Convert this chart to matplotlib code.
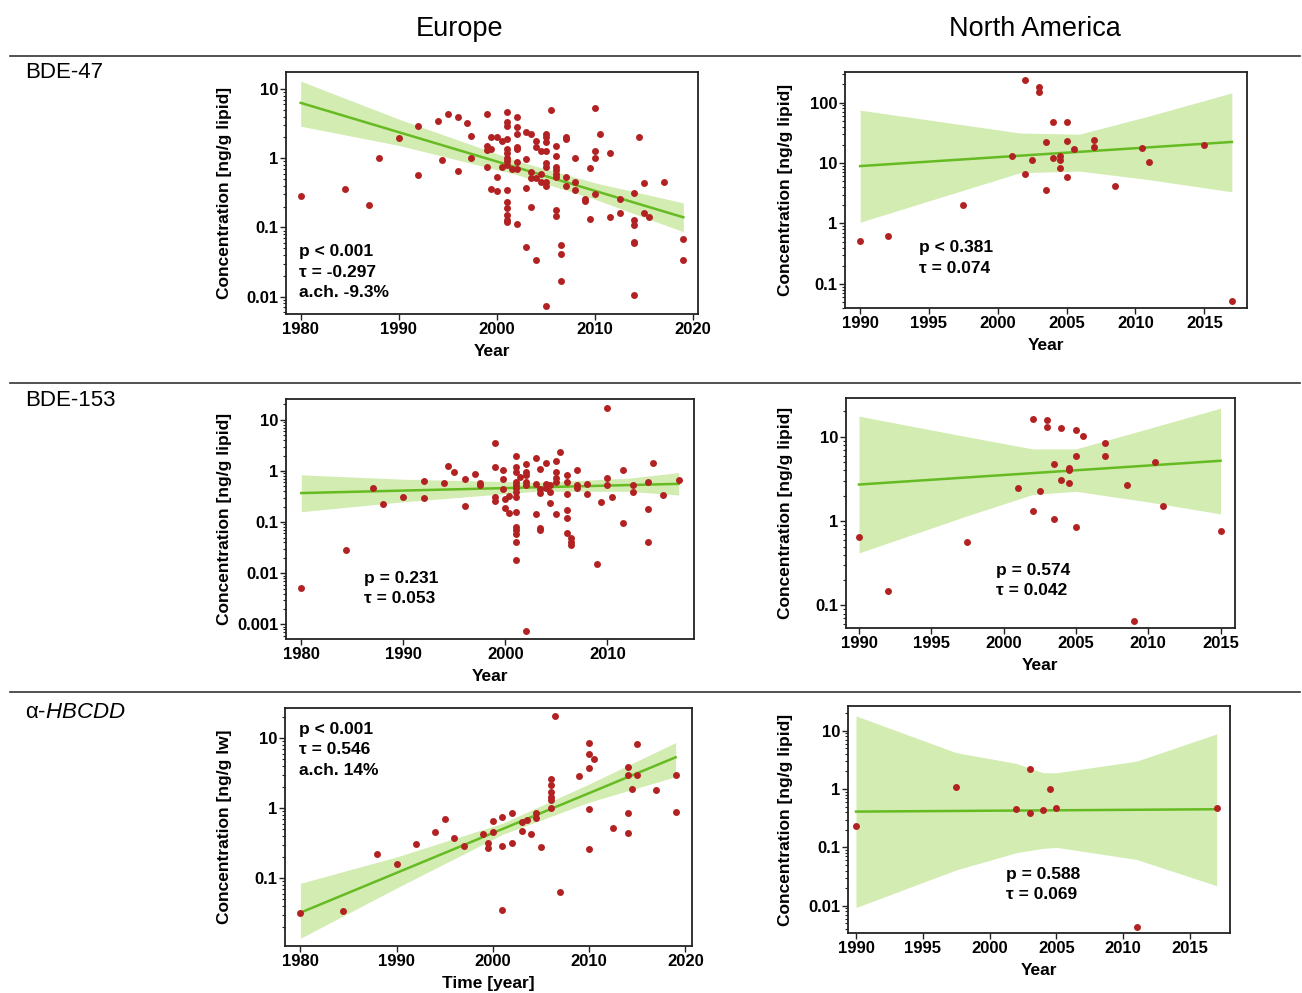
import numpy as np
import matplotlib
matplotlib.use("Agg")
import matplotlib.pyplot as plt
from matplotlib.lines import Line2D
from matplotlib.ticker import LogLocator, NullFormatter

plt.rcParams['font.family'] = ['Liberation Sans', 'DejaVu Sans']
plt.rcParams['mathtext.fontset'] = 'custom'
plt.rcParams['mathtext.rm'] = 'Liberation Sans'
plt.rcParams['mathtext.it'] = 'Liberation Sans:italic'

# ---- data (year, concentration) ----

# BDE-47, Europe
eu47_year = [1980, 1984.5, 1987, 1988, 1990, 1992, 1992, 1994, 1995, 1994.4,
             1996, 1996, 1997, 1997.4, 1997.4, 1999, 1999, 1999, 1999.4, 1999.4,
             1999, 1999.4, 2000, 2000.5, 2001, 2000, 2000,
             2001, 2001, 2001, 2001, 2001, 2001, 2001, 2001, 2001, 2001, 2001, 2001, 2001, 2001,
             2000.5, 2001.5, 2002,
             2002, 2002, 2002, 2002, 2002, 2002, 2002,
             2003, 2003, 2003, 2003, 2003.5, 2003.5, 2003.5, 2003.5,
             2004, 2004, 2004, 2004, 2004.5, 2004.5, 2004.5,
             2005, 2005, 2005, 2005, 2005, 2005, 2005, 2005, 2005, 2005.5,
             2006, 2006, 2006, 2006, 2006, 2006, 2006, 2006, 2006.5, 2006.5, 2006.5,
             2007, 2007, 2007, 2007, 2008, 2008, 2008, 2009, 2009, 2009.5, 2009.5,
             2010, 2010, 2010, 2010, 2010.5, 2011.5, 2011.5, 2012.5, 2012.5,
             2014, 2014, 2014, 2014, 2014, 2014, 2014.5, 2015, 2015, 2015.5, 2017, 2019, 2019]
eu47_conc = [0.28, 0.36, 0.21, 1.0, 1.96, 2.9, 0.58, 3.5, 4.4, 0.94,
             4.0, 0.66, 3.2, 2.1, 1.0, 4.4, 1.5, 1.3, 2.0, 1.36,
             0.74, 0.36, 2.03, 1.8, 1.92, 0.54, 0.34,
             4.6, 3.3, 2.9, 1.35, 1.17, 1.02, 0.91, 0.79, 0.345, 0.235, 0.19, 0.149, 0.128, 0.118,
             0.74, 0.69, 0.69,
             4.0, 2.83, 2.27, 1.43, 1.35, 0.88, 0.112,
             2.4, 0.96, 0.37, 0.052, 2.2, 0.63, 0.51, 0.2,
             1.78, 1.43, 0.51, 0.034, 1.26, 0.59, 0.45,
             1.26, 0.45, 0.39, 2.27, 2.03, 1.72, 0.84, 0.75, 0.0074, 4.9,
             1.49, 1.07, 0.75, 0.67, 0.6, 0.54, 0.178, 0.147, 0.055, 0.041, 0.0168,
             2.0, 1.9, 0.54, 0.39, 1.02, 0.45, 0.35, 0.26, 0.24, 0.73, 0.13,
             5.4, 1.26, 0.99, 0.3, 2.27, 1.19, 0.14, 0.26, 0.16,
             0.31, 0.128, 0.11, 0.062, 0.059, 0.0105, 2.0, 0.44, 0.16, 0.14, 0.45, 0.069, 0.034]
eu47_trend_x = [1980, 2019]
eu47_trend_y = [6.3, 0.14]
eu47_band_x = [1980, 1990, 2002, 2010, 2019]
eu47_band_hi = [13.0, 3.67, 0.92, 0.44, 0.226]
eu47_band_lo = [2.9, 1.53, 0.58, 0.255, 0.0865]

# BDE-47, North America
na47_year = [1990, 1992, 1997.5, 2001, 2002, 2002, 2002.5, 2003, 2003, 2003.5, 2003.5,
             2004, 2004, 2004.5, 2004.5, 2004.5, 2005, 2005, 2005, 2005.5,
             2007, 2007, 2008.5, 2010.5, 2011, 2015, 2017]
na47_conc = [0.52, 0.61, 2.0, 13.2, 235, 6.6, 11.3, 182, 152, 22, 3.6,
             47, 12, 13.2, 11.3, 8.3, 47, 23.5, 5.9, 17,
             24, 18.5, 4.1, 18, 10.4, 19.6, 0.053]
na47_trend_x = [1990, 2017]
na47_trend_y = [8.9, 22.3]
na47_band_x = [1990, 2001.6, 2005.9, 2011, 2017]
na47_band_hi = [74.8, 31.4, 29.9, 60, 144.5]
na47_band_lo = [1.05, 6.9, 7.36, 5.3, 3.34]

# BDE-153, Europe
eu153_year = [1980, 1984.4, 1987, 1988, 1990, 1992, 1992, 1994, 1994.4, 1995, 1996, 1996,
              1997, 1997.5, 1997.5, 1999, 1999, 1999, 1999, 1999.8, 1999.8, 1999.8,
              2000, 2000, 2000.4, 2000.4,
              2001, 2001, 2001, 2001, 2001, 2001, 2001, 2001, 2001, 2001, 2001, 2001, 2001, 2001,
              2001.4, 2002, 2002, 2002, 2002, 2002, 2002,
              2003, 2003, 2003, 2003.4, 2003.4, 2003.4, 2003.4, 2003.4,
              2004, 2004, 2004, 2004.4, 2004.4, 2004.4,
              2005, 2005, 2005, 2005, 2005, 2005.4,
              2006, 2006, 2006, 2006, 2006, 2006, 2006.4, 2006.4, 2006.4,
              2007, 2007, 2007, 2008, 2008, 2009, 2009.4, 2010, 2010, 2010, 2010.5,
              2011.5, 2011.5, 2012.5, 2012.5, 2014, 2014, 2014, 2014.5, 2015.5, 2017]
eu153_conc = [0.0051, 0.029, 0.47, 0.23, 0.31, 0.64, 0.30, 0.59, 1.25, 0.94, 0.71, 0.21,
              0.89, 0.57, 0.52, 3.6, 1.2, 0.31, 0.26, 1.06, 0.69, 0.44,
              0.28, 0.19, 0.33, 0.153,
              2.0, 1.18, 0.94, 0.60, 0.53, 0.46, 0.38, 0.31, 0.16, 0.082, 0.07, 0.058, 0.041, 0.018,
              0.77, 1.39, 0.94, 0.84, 0.60, 0.53, 0.00073,
              1.77, 0.55, 0.146, 1.09, 0.45, 0.37, 0.078, 0.07,
              1.41, 0.55, 0.46, 0.53, 0.39, 0.24,
              1.57, 0.97, 0.74, 0.60, 0.146, 2.38,
              0.84, 0.60, 0.36, 0.17, 0.12, 0.062, 0.05, 0.041, 0.035,
              1.03, 0.53, 0.47, 0.55, 0.36, 0.015, 0.25, 16.7, 0.72, 0.53, 0.31,
              1.06, 0.095, 0.53, 0.39, 0.62, 0.18, 0.04, 1.45, 0.34, 0.67]
eu153_trend_x = [1980, 2017]
eu153_trend_y = [0.37, 0.56]
eu153_band_x = [1980, 1990, 2003, 2012, 2017]
eu153_band_hi = [0.84, 0.69, 0.60, 0.72, 0.93]
eu153_band_lo = [0.16, 0.25, 0.40, 0.40, 0.34]

# BDE-153, North America
na153_year = [1990, 1992, 1997.5, 2001, 2002, 2002, 2002.5, 2003, 2003, 2003.5, 2003.5,
              2004, 2004, 2004.5, 2004.5, 2004.5, 2005, 2005, 2005, 2005.5,
              2007, 2007, 2008.5, 2009, 2010.5, 2011, 2015]
na153_conc = [0.65, 0.147, 0.56, 2.5, 16.5, 1.31, 2.3, 15.7, 13, 4.7, 1.07,
              12.6, 3.05, 4.27, 4.0, 2.84, 12.2, 5.9, 0.86, 10.3,
              8.4, 5.9, 2.67, 0.066, 5.1, 1.5, 0.76]
na153_trend_x = [1990, 2015]
na153_trend_y = [2.72, 5.2]
na153_band_x = [1990, 1997.5, 2002, 2005, 2010, 2015]
na153_band_hi = [17.6, 10, 7.2, 7.2, 12.5, 21.9]
na153_band_lo = [0.42, 1.16, 2.07, 2.26, 1.69, 1.22]

# alpha-HBCDD, Europe
euhb_year = [1980, 1984.4, 1988, 1990, 1992, 1994, 1995, 1996, 1997, 1999, 1999.5, 1999.5,
             2000, 2000, 2001, 2001, 2001, 2002, 2002, 2003, 2003.5, 2003, 2004, 2004.5, 2004.5,
             2005, 2006, 2006, 2006, 2006, 2006, 2006, 2006.5, 2007, 2009,
             2010, 2010, 2010, 2010, 2010, 2010.5, 2012.5, 2014, 2014, 2014, 2014, 2014.5,
             2015, 2015, 2017, 2019, 2019]
euhb_conc = [0.032, 0.034, 0.22, 0.16, 0.31, 0.46, 0.70, 0.37, 0.29, 0.43, 0.32, 0.27,
             0.65, 0.46, 0.75, 0.29, 0.035, 0.86, 0.32, 0.64, 0.67, 0.47, 0.43, 0.84, 0.71,
             0.28, 2.57, 2.13, 1.71, 1.45, 1.3, 0.99, 20.6, 0.064, 2.86,
             8.4, 5.9, 3.77, 0.96, 0.26, 5.0, 0.52, 3.9, 3.0, 0.84, 0.44, 1.85,
             8.1, 2.96, 1.8, 3.0, 0.88]
euhb_trend_x = [1980, 2019]
euhb_trend_y = [0.032, 5.3]
euhb_band_x = [1980, 1990, 2001, 2010, 2019]
euhb_band_hi = [0.084, 0.20, 0.605, 2.2, 8.6]
euhb_band_lo = [0.0138, 0.072, 0.42, 1.21, 2.8]

# alpha-HBCDD, North America
nahb_year = [1990, 1997.5, 2002, 2003, 2003, 2004, 2004.5, 2005, 2011, 2017]
nahb_conc = [0.235, 1.08, 0.45, 2.2, 0.39, 0.43, 0.99, 0.47, 0.0043, 0.47]
nahb_trend_x = [1990, 2017]
nahb_trend_y = [0.41, 0.45]
nahb_band_x = [1990, 1997.5, 2002, 2004, 2005, 2011, 2017]
nahb_band_hi = [17.9, 4.2, 2.75, 1.9, 1.9, 3.0, 8.8]
nahb_band_lo = [0.0093, 0.041, 0.081, 0.096, 0.1, 0.062, 0.022]

# ---- styling ----
W, H = 1302, 993
dot_col = '#b22222'
line_col = '#66bb22'
band_col = '#d2ecb2'
spine_col = '#222222'

fig = plt.figure(figsize=(W / 100, H / 100), dpi=100)


def panel(rect, years, conc, trend_x, trend_y, band_x, band_lo, band_hi,
          xlim, ylim, xticks, yticks, ylabels, ylabel, xlabel, stats, stats_xy, ylab_x):
    l, t, r, b = rect
    ax = fig.add_axes([l / W, 1 - b / H, (r - l) / W, (b - t) / H])
    ax.set_yscale('log')
    ax.fill_between(band_x, band_lo, band_hi, color=band_col, lw=0, zorder=1)
    ax.plot(trend_x, trend_y, color=line_col, lw=1.8, zorder=2)
    ax.scatter(years, conc, s=25, color=dot_col, linewidths=0, zorder=3, clip_on=False)
    ax.set_xlim(xlim)
    ax.set_ylim(ylim)
    ax.set_xticks(xticks)
    ax.set_xticklabels([str(x) for x in xticks], fontsize=12, fontweight='bold')
    ax.set_yticks(yticks)
    ax.set_yticklabels(ylabels, fontsize=12, fontweight='bold')
    ax.yaxis.set_minor_locator(LogLocator(base=10, subs=np.arange(2, 10), numticks=20))
    ax.yaxis.set_minor_formatter(NullFormatter())
    ax.tick_params(which='major', direction='out', length=4, width=1, pad=1.5, color=spine_col)
    ax.tick_params(which='minor', direction='out', length=2.5, width=0.8, color=spine_col)
    for s in ax.spines.values():
        s.set_color(spine_col)
        s.set_linewidth(1.3)
    ax.set_ylabel(ylabel, fontsize=12.5, fontweight='bold')
    ax.set_xlabel(xlabel, fontsize=12.5, fontweight='bold')
    ax.yaxis.set_label_coords((ylab_x - l) / (r - l), 0.5)
    ax.xaxis.set_label_coords(0.5, -30 / (b - t))
    ax.text(stats_xy[0], stats_xy[1], stats, transform=ax.transAxes, ha='left', va='top',
            fontsize=12.5, fontweight='bold', linespacing=1.45)
    return ax


lip = 'Concentration [ng/g lipid]'

panel((286, 72, 698, 314), eu47_year, eu47_conc, eu47_trend_x, eu47_trend_y,
      eu47_band_x, eu47_band_lo, eu47_band_hi,
      (1978.5, 2020.5), (0.0056, 17.6), [1980, 1990, 2000, 2010, 2020],
      [0.01, 0.1, 1, 10], ['0.01', '0.1', '1', '10'], lip, 'Year',
      'p < 0.001\nτ = -0.297\na.ch. -9.3%', (0.032, 0.288), 232)

panel((845, 72, 1247, 308), na47_year, na47_conc, na47_trend_x, na47_trend_y,
      na47_band_x, na47_band_lo, na47_band_hi,
      (1988.9, 2018.1), (0.04, 320), [1990, 1995, 2000, 2005, 2010, 2015],
      [0.1, 1, 10, 100], ['0.1', '1', '10', '100'], lip, 'Year',
      'p < 0.381\nτ = 0.074', (0.184, 0.287), 793)

panel((286, 399, 694, 639), eu153_year, eu153_conc, eu153_trend_x, eu153_trend_y,
      eu153_band_x, eu153_band_lo, eu153_band_hi,
      (1978.5, 2018.5), (0.00052, 25.5), [1980, 1990, 2000, 2010],
      [0.001, 0.01, 0.1, 1, 10], ['0.001', '0.01', '0.1', '1', '10'], lip, 'Year',
      'p = 0.231\nτ = 0.053', (0.192, 0.283), 232)

panel((846, 398, 1235, 628), na153_year, na153_conc, na153_trend_x, na153_trend_y,
      na153_band_x, na153_band_lo, na153_band_hi,
      (1989.1, 2016.0), (0.054, 28.9), [1990, 1995, 2000, 2005, 2010, 2015],
      [0.1, 1, 10], ['0.1', '1', '10'], lip, 'Year',
      'p = 0.574\nτ = 0.042', (0.386, 0.283), 793)

panel((285, 708, 692, 946), euhb_year, euhb_conc, euhb_trend_x, euhb_trend_y,
      euhb_band_x, euhb_band_lo, euhb_band_hi,
      (1978.4, 2020.7), (0.0107, 26.8), [1980, 1990, 2000, 2010, 2020],
      [0.1, 1, 10], ['0.1', '1', '10'], 'Concentration [ng/g lw]', 'Time [year]',
      'p < 0.001\nτ = 0.546\na.ch. 14%', (0.034, 0.942), 232)

panel((848, 706, 1230, 933), nahb_year, nahb_conc, nahb_trend_x, nahb_trend_y,
      nahb_band_x, nahb_band_lo, nahb_band_hi,
      (1989.4, 2018.0), (0.0034, 26.5), [1990, 1995, 2000, 2005, 2010, 2015],
      [0.01, 0.1, 1, 10], ['0.01', '0.1', '1', '10'], lip, 'Year',
      'p = 0.588\nτ = 0.069', (0.414, 0.292), 793)

# column titles, row labels and separators
fig.text(460 / W, 1 - 29 / H, 'Europe', ha='center', va='center', fontsize=19.5)
fig.text(1035 / W, 1 - 29 / H, 'North America', ha='center', va='center', fontsize=19.5)
fig.text(25 / W, 1 - 73 / H, 'BDE-47', ha='left', va='center', fontsize=16)
fig.text(25 / W, 1 - 400 / H, 'BDE-153', ha='left', va='center', fontsize=16)
fig.text(25 / W, 1 - 713 / H, r'α-$\mathit{HBCDD}$', ha='left', va='center', fontsize=16)

for yy in [56, 383, 692]:
    fig.add_artist(Line2D([10 / W, 1300 / W], [1 - yy / H, 1 - yy / H],
                          color='#333333', lw=1.2))

fig.savefig('out.png', dpi=100)
